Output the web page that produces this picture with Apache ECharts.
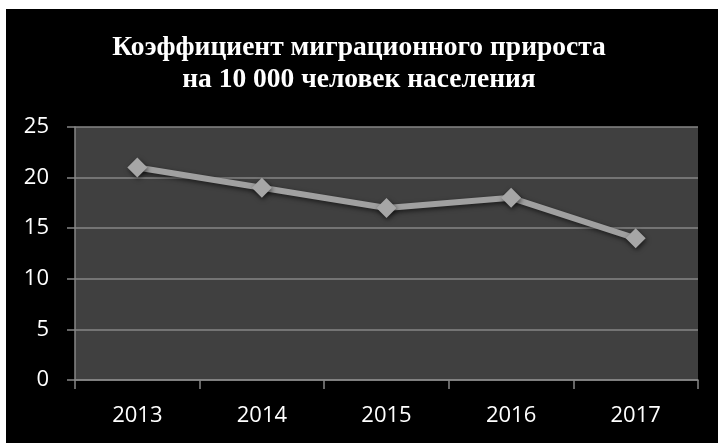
<!DOCTYPE html>
<html>
<head>
<meta charset="utf-8">
<script src="https://cdn.jsdelivr.net/npm/echarts@6/dist/echarts.min.js"></script>
<style>
  html, body { margin: 0; padding: 0; background: #ffffff; }
  #chart { width: 718px; height: 443px; }
</style>
</head>
<body>
<div id="chart"></div>
<script>
// Migration growth rate per 10,000 population, by year
const years = ['2013', '2014', '2015', '2016', '2017'];
const rates = [21, 19, 17, 18, 14];
const yTicks = [0, 5, 10, 15, 20, 25];

const chart = echarts.init(document.getElementById('chart'));
chart.setOption({
  backgroundColor: '#ffffff',
  animation: false,
  graphic: [{
    type: 'rect',
    left: 6, top: 9,
    shape: { width: 712, height: 434 },
    style: { fill: '#000000' },
    z: -10
  }],
  title: {
    text: 'Коэффициент миграционного прироста\nна 10 000 человек населения',
    left: 'center',
    top: 27,
    textStyle: {
      color: '#ffffff',
      fontFamily: 'Liberation Serif',
      fontWeight: 'bold',
      fontSize: 27.5,
      lineHeight: 32
    }
  },
  grid: {
    left: 75, top: 127, width: 623, height: 253,
    show: true,
    backgroundColor: '#404040',
    borderWidth: 0
  },
  xAxis: {
    type: 'category',
    data: years,
    boundaryGap: true,
    axisLine: { lineStyle: { color: '#868686', width: 1.5 } },
    axisTick: { show: true, length: 9, lineStyle: { color: '#868686', width: 1.5 } },
    axisLabel: { color: '#ffffff', fontSize: 22, fontFamily: 'Open Sans', margin: 25 }
  },
  yAxis: {
    type: 'value',
    min: yTicks[0],
    max: yTicks[yTicks.length - 1],
    interval: 5,
    axisLine: { show: true, lineStyle: { color: '#868686', width: 1.5 } },
    axisTick: { show: true, length: 8, lineStyle: { color: '#868686', width: 1.5 } },
    splitLine: { lineStyle: { color: '#868686', width: 1.5 } },
    axisLabel: { color: '#ffffff', fontSize: 22, fontFamily: 'Open Sans', margin: 26 }
  },
  series: [{
    type: 'line',
    data: rates,
    symbol: 'diamond',
    symbolSize: 20,
    lineStyle: {
      color: '#a0a0a0', width: 6,
      shadowColor: 'rgba(0,0,0,0.6)', shadowBlur: 5, shadowOffsetX: 1, shadowOffsetY: 2
    },
    itemStyle: {
      color: '#a6a6a6',
      shadowColor: 'rgba(0,0,0,0.6)', shadowBlur: 5, shadowOffsetX: 1, shadowOffsetY: 2
    }
  }]
});
</script>
</body>
</html>
